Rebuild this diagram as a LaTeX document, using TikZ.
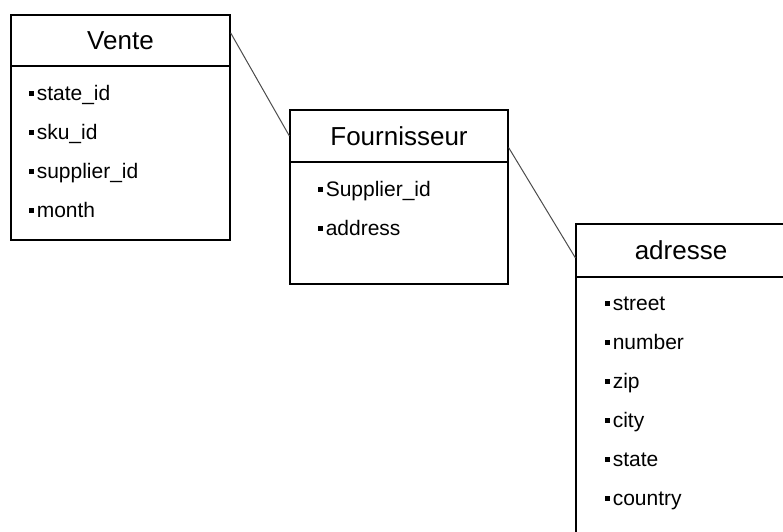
\documentclass[tikz,border=0pt]{standalone}
\usepackage{fontspec}
\setmainfont{Liberation Sans}
\tikzset{
  tblbox/.style={draw,line width=2.5pt},
  tblhead/.style={draw,line width=1.2pt,font=\fontsize{26}{30}\selectfont},
  tblitem/.style={anchor=base west,inner sep=0pt,font=\fontsize{21}{24}\selectfont},
  tbllink/.style={draw=black!70,line width=1pt}
}
\newcommand{\bul}{\rule[0.2em]{0.24em}{0.24em}\hspace{0.12em}}
\begin{document}
\begin{tikzpicture}[x=1pt,y=-1pt]
\useasboundingbox (0,0) rectangle (783,531);
\clip (0,0) rectangle (783,531);
% vente
\node[tblhead,minimum width=219pt,minimum height=51pt] (venteh) at (120.5,40.5) {Vente};
\node[tblbox,minimum width=219pt,minimum height=225pt] (vente) at (120.5,127.5) {};
\foreach \t [count=\i] in {state\_id,sku\_id,supplier\_id,month}
  \node[tblitem] (v\i) at (29,{61+39*\i}) {\bul\t};
% fournisseur
\node[tblhead,minimum width=218pt,minimum height=52pt] (fournh) at (399,136) {Fournisseur};
\node[tblbox,minimum width=218pt,minimum height=174pt] (fourn) at (399,197) {};
\node[tblitem] (f1) at (318,196) {\bul Supplier\_id};
\node[tblitem] (f2) at (318,235) {\bul address};
% adresse
\node[tblhead,minimum width=210pt,minimum height=53pt] (adresseh) at (681,250.5) {adresse};
\node[tblbox,minimum width=210pt,minimum height=321pt] (adresse) at (681,384.5) {};
\foreach \t [count=\i] in {street,number,zip,city,state,country}
  \node[tblitem] (a\i) at (605,{271+39*\i}) {\bul\t};
% links
\draw[tbllink] (venteh.4) -- (fournh.west);
\draw[tbllink] (fournh.-6) -- (adresseh.184);
\end{tikzpicture}
\end{document}
